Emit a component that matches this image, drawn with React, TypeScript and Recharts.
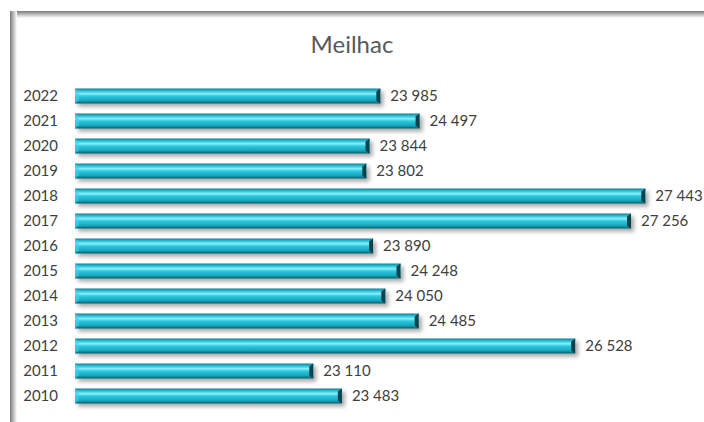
import { BarChart, Bar, XAxis, YAxis, LabelList } from 'recharts';

const years = ['2022', '2021', '2020', '2019', '2018', '2017', '2016', '2015', '2014', '2013', '2012', '2011', '2010'];
const population = [23985, 24497, 23844, 23802, 27443, 27256, 23890, 24248, 24050, 24485, 26528, 23110, 23483];
const axisDomain = [20000, 28000];

const data = years.map((year, i) => ({ year, value: population[i] }));

const fmt = (v: number) => String(v).replace(/\B(?=(\d{3})+(?!\d))/g, ' ');

// bevelled cyan bar like the Excel 3D preset
function BevelBar(props: any) {
  const { x, y, width, height } = props;
  if (!width || width <= 0) return null;
  const cap = 4;
  return (
    <g>
      <defs>
        <linearGradient id="barFill" x1="0" y1="0" x2="0" y2="1">
          <stop offset="0%" stopColor="#0f7f92" />
          <stop offset="15%" stopColor="#22bcd3" />
          <stop offset="35%" stopColor="#8ceffa" />
          <stop offset="50%" stopColor="#2cc9e0" />
          <stop offset="80%" stopColor="#17a6bd" />
          <stop offset="100%" stopColor="#0a5a69" />
        </linearGradient>
        <filter id="barShadow" x="-5%" y="-40%" width="112%" height="200%">
          <feGaussianBlur in="SourceAlpha" stdDeviation="2.2" />
          <feOffset dx="3" dy="3" result="b" />
          <feComponentTransfer>
            <feFuncA type="linear" slope="0.35" />
          </feComponentTransfer>
          <feMerge>
            <feMergeNode />
            <feMergeNode in="SourceGraphic" />
          </feMerge>
        </filter>
      </defs>
      <g filter="url(#barShadow)">
        <rect x={x} y={y} width={width} height={height} fill="url(#barFill)" />
      </g>
      <polygon
        points={`${x},${y} ${x + cap},${y + 3} ${x + cap},${y + height - 3} ${x},${y + height}`}
        fill="#3fd3e8"
        opacity={0.6}
      />
      <polygon
        points={`${x + width},${y} ${x + width},${y + height} ${x + width - cap},${y + height - 3} ${x + width - cap},${y + 3}`}
        fill="#08404b"
      />
    </g>
  );
}

function ValueLabel(props: any) {
  const { x, y, width, height, value } = props;
  return (
    <text
      x={x + width + 10}
      y={y + height / 2}
      dy="0.35em"
      fill="#404040"
      fontSize={15}
      fontFamily="Lato"
    >
      {fmt(Number(value))}
    </text>
  );
}

export default function App() {
  return (
    <div style={{ position: 'absolute', left: 0, top: 0, width: 704, height: 422, background: '#fff', overflow: 'hidden', fontFamily: 'Lato' }}>
      <div style={{ position: 'absolute', left: 10, top: 11, width: 694, height: 7, background: 'linear-gradient(to bottom, #7a7a7a, #ffffff)' }} />
      <div style={{ position: 'absolute', left: 10, top: 11, width: 7, height: 411, background: 'linear-gradient(to right, #7a7a7a, #ffffff)' }} />
      <div style={{ position: 'absolute', left: 0, top: 29, width: 704, textAlign: 'center', fontSize: 24, color: '#595959' }}>
        Meilhac
      </div>
      <div style={{ position: 'absolute', left: 0, top: 0 }}>
        <BarChart
          width={704}
          height={422}
          data={data}
          layout="vertical"
          margin={{ top: 83.5, right: 16, bottom: 13.5, left: 0 }}
        >
          <XAxis type="number" domain={axisDomain} hide allowDataOverflow />
          <YAxis
            type="category"
            dataKey="year"
            width={75}
            axisLine={false}
            tickLine={false}
            tickSize={0}
            tickMargin={17}
            tick={{ fill: '#404040', fontSize: 15, fontFamily: 'Lato' }}
          />
          <Bar dataKey="value" barSize={15} shape={BevelBar} isAnimationActive={false}>
            <LabelList dataKey="value" content={ValueLabel} />
          </Bar>
        </BarChart>
      </div>
    </div>
  );
}
